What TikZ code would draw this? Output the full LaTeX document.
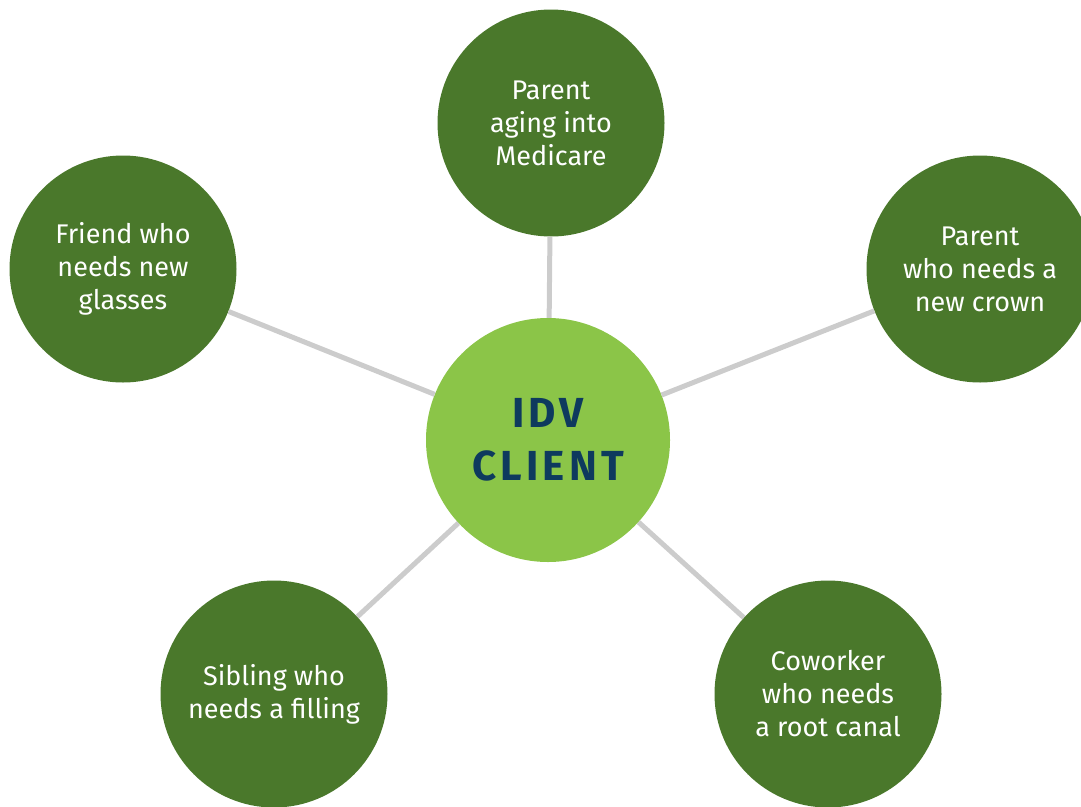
\documentclass[tikz,border=0pt]{standalone}
\usepackage{fontspec}
\setmainfont{Fira Sans}
\newfontfamily\hubfont[LetterSpace=10]{Fira Sans}
\definecolor{leafgreen}{HTML}{4A782B}
\definecolor{limegreen}{HTML}{8BC548}
\definecolor{idvnavy}{HTML}{0E3A5E}
\definecolor{spokegray}{HTML}{CCCCCC}
\usetikzlibrary{positioning}

\tikzset{
	outer/.style={circle, fill=leafgreen, text=white, minimum size=227pt, inner sep=0pt,
		align=center, font=\fontsize{27}{33}\selectfont},
	hub/.style={circle, fill=limegreen, text=idvnavy, minimum size=244pt, inner sep=0pt,
		align=center, font=\fontsize{42}{53}\hubfont\bfseries},
	spoke/.style={spokegray, line width=5pt}
}

\begin{document}
\begin{tikzpicture}[x=1pt, y=-1pt]
			\useasboundingbox (0,0) rectangle (1081,806);
			
			\node[hub] (client) at (548,440) {IDV\\CLIENT};
			
			\node[outer] (medicare) at (551,123) {Parent\\aging into\\Medicare};
			\node[outer] (glasses) at (123,269) {Friend who\\needs new\\glasses};
			\node[outer] (crown) at (980,269) {Parent\\who needs a\\new crown};
			\node[outer] (filling) at (274,694) {Sibling who\\needs a filling};
			\node[outer] (canal) at (828,694) {Coworker\\who needs\\a root canal};
			
			% spokes run border to border
			\foreach \leaf in {medicare, glasses, crown, filling, canal}
				\draw[spoke] (client) -- (\leaf);
		\end{tikzpicture}
\end{document}
